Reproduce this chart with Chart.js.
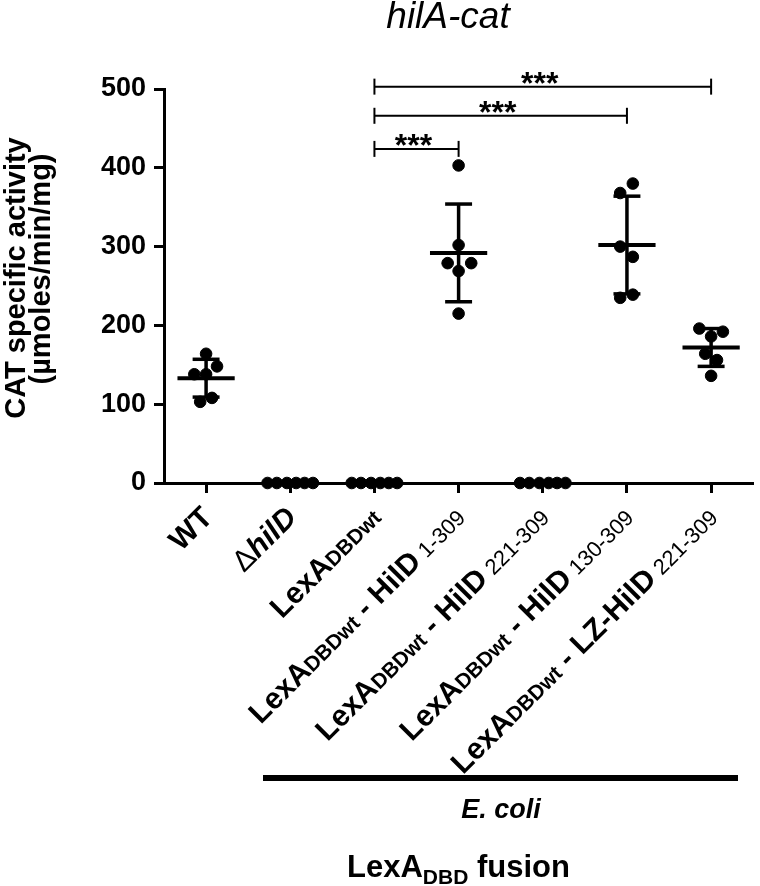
<!DOCTYPE html>
<html>
<head>
<meta charset="utf-8">
<script src="https://cdn.jsdelivr.net/npm/chart.js@4/dist/chart.umd.min.js"></script>
<style>
html,body{margin:0;background:#fff}
#wrap{width:760px;height:886px;position:relative}
</style>
</head>
<body>
<div id="wrap"><canvas id="grafico"></canvas></div>
<script>
// categorias: _x_ = subscrito negrito, ~x~ = pequeno normal, *x* = negrito italico, ^x^ = normal
const categorias = ['WT','^Δ^*hilD*','LexA_DBDwt_','LexA_DBDwt_ - HilD~ 1-309~','LexA_DBDwt_ - HilD~ 221-309~','LexA_DBDwt_ - HilD~ 130-309~','LexA_DBDwt_ - LZ-HilD~ 221-309~'];

const valWT      = [164,148,138,138,108,103];
const valDelta   = [0,0,0,0,0,0];
const valLexA    = [0,0,0,0,0,0];
const valHilD1   = [403,302,279,279,269,215];
const valHilD221 = [0,0,0,0,0,0];
const valHilD130 = [380,368,300,287,239,235];
const valLZ      = [196,192,186,164,156,136];

const medias  = [133,0,0,292,0,302,172];
const desvios = [24,0,0,62,0,62,24];

const yTicks = [0,100,200,300,400,500];
const comparacoes = [[2,3,'***'],[2,5,'***'],[2,6,'***']];

// posicao horizontal dos pontos dentro de cada grupo (em unidades de categoria)
const jitter = [
  [0,0.13,-0.14,0,0.07,-0.07],
  [-0.27,-0.16,-0.04,0.07,0.17,0.27],
  [-0.27,-0.16,-0.04,0.07,0.17,0.27],
  [0,0,-0.13,0.15,0,0],
  [-0.27,-0.16,-0.04,0.07,0.17,0.27],
  [0.07,-0.08,-0.08,0.07,0.07,-0.08],
  [-0.14,0.14,0,-0.07,0.07,0]
];
const nivelChaves = [424,466,503];

const FAM = '"Liberation Sans", Arial, Helvetica, sans-serif';
Chart.defaults.font.family = FAM;
Chart.defaults.color = '#000';

const grupos = [valWT,valDelta,valLexA,valHilD1,valHilD221,valHilD130,valLZ];

function partes(txt){
  const out=[]; let modo='b'; let buf='';
  for(const ch of txt){
    const m = {'_':'s','~':'n','*':'i','^':'r'}[ch];
    if(m){
      if(buf) out.push({t:buf,m:modo});
      buf='';
      modo = (modo===m) ? 'b' : m;
    } else buf+=ch;
  }
  if(buf) out.push({t:buf,m:modo});
  return out;
}
const fontes = {
  b:'bold 30px '+FAM,
  s:'bold 21px '+FAM,
  n:'22px '+FAM,
  i:'italic bold 30px '+FAM,
  r:'30px '+FAM
};

function linha(ctx,x1,y1,x2,y2){
  ctx.beginPath(); ctx.moveTo(x1,y1); ctx.lineTo(x2,y2); ctx.stroke();
}

const anotacoes = {
  id:'anotacoes',
  afterDatasetsDraw(chart){
    const {ctx, scales:{x,y}} = chart;
    ctx.save();
    ctx.strokeStyle='#000';
    medias.forEach((m,i)=>{
      if(!m && !desvios[i]) return;
      const cx = x.getPixelForValue(i);
      const py = y.getPixelForValue(m);
      const hi = y.getPixelForValue(m+desvios[i]);
      const lo = y.getPixelForValue(m-desvios[i]);
      const meia = x.getPixelForValue(i+0.34)-cx;
      const cap = x.getPixelForValue(i+0.16)-cx;
      ctx.lineWidth=4;
      linha(ctx,cx-meia,py,cx+meia,py);
      ctx.lineWidth=3.5;
      linha(ctx,cx,hi,cx,lo);
      linha(ctx,cx-cap,hi,cx+cap,hi);
      linha(ctx,cx-cap,lo,cx+cap,lo);
    });
    ctx.restore();
  },
  afterDraw(chart){
    const {ctx, scales:{x,y}} = chart;
    ctx.save();
    ctx.fillStyle='#000'; ctx.strokeStyle='#000';

    // chaves de significancia
    comparacoes.forEach((c,k)=>{
      const x1 = x.getPixelForValue(c[0]), x2 = x.getPixelForValue(c[1]);
      const py = y.getPixelForValue(nivelChaves[k]);
      ctx.lineWidth=2;
      linha(ctx,x1,py,x2,py);
      linha(ctx,x1,py-8,x1,py+8);
      linha(ctx,x2,py-8,x2,py+8);
      ctx.font='bold 32px '+FAM;
      ctx.textAlign='center'; ctx.textBaseline='alphabetic';
      ctx.fillText(c[2],(x1+x2)/2-3,py+7);
    });

    // rotulos do eixo x
    ctx.textAlign='left'; ctx.textBaseline='alphabetic';
    categorias.forEach((c,i)=>{
      const ps = partes(c);
      let w=0;
      ps.forEach(p=>{ctx.font=fontes[p.m]; p.w=ctx.measureText(p.t).width; w+=p.w;});
      ctx.save();
      ctx.translate(x.getPixelForValue(i)+8, 519);
      ctx.rotate(-Math.PI/4);
      let px=-w;
      ps.forEach(p=>{ctx.font=fontes[p.m]; ctx.fillText(p.t,px,0); px+=p.w;});
      ctx.restore();
    });

    // titulo
    ctx.textAlign='center';
    ctx.font='italic 37px '+FAM;
    ctx.fillText('hilA-cat',448,28);

    // titulo eixo y
    ctx.save();
    ctx.translate(25,278); ctx.rotate(-Math.PI/2);
    ctx.font='bold 29px '+FAM;
    ctx.fillText('CAT specific activity',0,0);
    ctx.restore();
    ctx.save();
    ctx.translate(50,269); ctx.rotate(-Math.PI/2);
    ctx.font='bold 29px '+FAM;
    ctx.fillText('(µmoles/min/mg)',0,0);
    ctx.restore();

    // barra E. coli
    ctx.lineWidth=6;
    linha(ctx,263,778,738,778);
    ctx.font='italic bold 27px '+FAM;
    ctx.fillText('E. coli',501,818);

    // LexA DBD fusion
    ctx.textAlign='left';
    let px=347;
    ctx.font='bold 31px '+FAM; ctx.fillText('LexA',px,877); px+=ctx.measureText('LexA').width;
    ctx.font='bold 21px '+FAM; ctx.fillText('DBD',px,884); px+=ctx.measureText('DBD').width;
    ctx.font='bold 31px '+FAM; ctx.fillText(' fusion',px,877);
    ctx.restore();
  }
};

const chart = new Chart(document.getElementById('grafico'), {
  type:'scatter',
  data:{
    datasets: grupos.map((g,i)=>({
      label: categorias[i],
      data: g.map((v,k)=>({x:i+jitter[i][k], y:v})),
      backgroundColor:'#000',
      borderColor:'#000',
      pointRadius:5.8,
      pointHoverRadius:5.8,
      clip:false
    }))
  },
  options:{
    responsive:true,
    maintainAspectRatio:false,
    animation:false,
    events:[],
    layout:{padding:{top:89,right:2,left:0,bottom:0}},
    plugins:{legend:{display:false},tooltip:{enabled:false},title:{display:false}},
    scales:{
      x:{
        type:'linear', min:-0.5, max:6.5,
        afterBuildTicks: s => { s.ticks = categorias.map((c,i)=>({value:i})); },
        afterFit: s => { s.height = 886-483; },
        ticks:{callback:()=>'' , padding:0},
        grid:{drawOnChartArea:false, drawTicks:true, tickLength:10, tickWidth:3, color:'#000'},
        border:{display:true, color:'#000', width:3}
      },
      y:{
        min:0, max:500,
        afterBuildTicks: s => { s.ticks = yTicks.map(v=>({value:v})); },
        afterFit: s => { s.width = 164; },
        ticks:{font:{size:27, weight:'bold'}, color:'#000', padding:8},
        grid:{drawOnChartArea:false, drawTicks:true, tickLength:10, tickWidth:3, color:'#000'},
        border:{display:true, color:'#000', width:3}
      }
    }
  },
  plugins:[anotacoes]
});
</script>
</body>
</html>
